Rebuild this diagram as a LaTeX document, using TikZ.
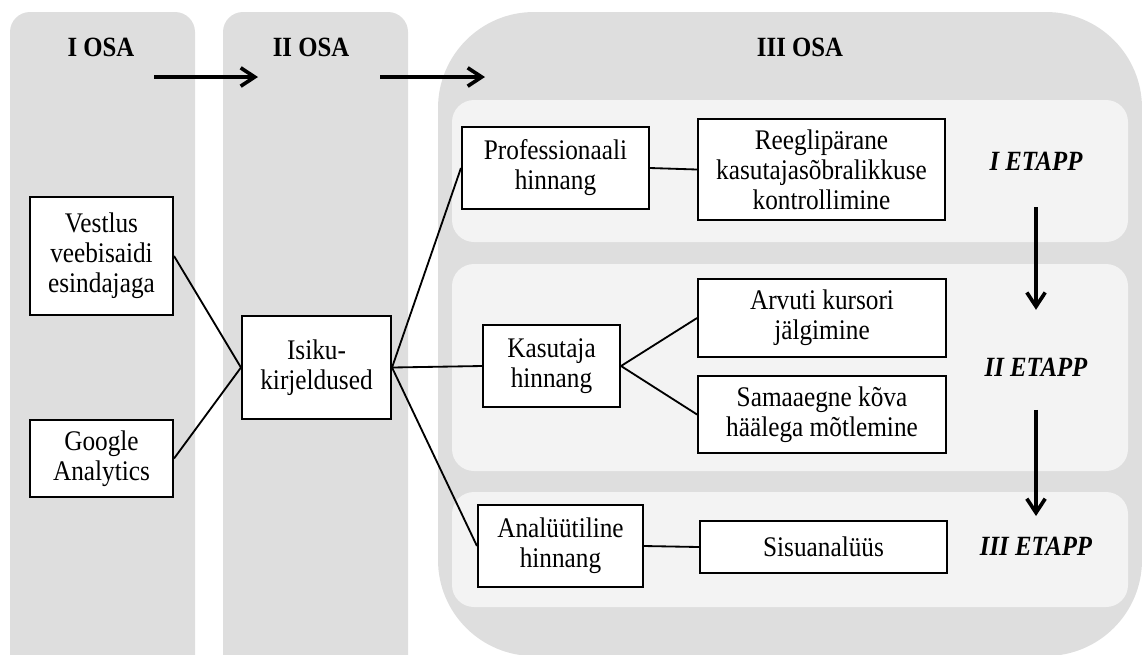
\documentclass[tikz,border=0pt]{standalone}
\usepackage{fontspec}
\setmainfont{Liberation Serif}
\newfontfamily\boxfont[FakeStretch=0.89]{Liberation Serif}
\usepackage{xcolor}
\usetikzlibrary{arrows.meta}
\definecolor{osagray}{HTML}{DEDEDE}
\definecolor{etappgray}{HTML}{F3F3F3}

\begin{document}
\begin{tikzpicture}[x=0.025cm, y=-0.025cm,
  box/.style={draw, line width=1.3pt, fill=white, align=center, inner sep=2pt,
    font=\boxfont\fontsize{20.2}{21.3}\selectfont},
  link/.style={line width=1.3pt},
  flow/.style={line width=2.6pt, -{Straight Barb[length=3.5mm, width=4.6mm]}},
  head/.style={font=\boxfont\fontsize{19.8}{21}\selectfont\bfseries},
  stage/.style={font=\boxfont\fontsize{19.8}{21}\selectfont\bfseries\itshape}]
  \clip (0,0) rectangle (1142,654);

  % ── Background panels ──
  \fill[osagray, rounded corners=0.5cm] (10,12) rectangle (195,720);
  \fill[osagray, rounded corners=0.5cm] (223,12) rectangle (408,720);
  \fill[osagray, rounded corners=2.4cm] (438,12) rectangle (1142,656);
  % Stage bands
  \fill[etappgray, rounded corners=0.55cm] (452,100) rectangle (1128,242);
  \fill[etappgray, rounded corners=0.55cm] (452,264) rectangle (1128,471);
  \fill[etappgray, rounded corners=0.55cm] (452,492) rectangle (1128,607);

  % ── Headers ──
  \node[head] (osa1) at (101,47) {I OSA};
  \node[head] (osa2) at (311,47) {II OSA};
  \node[head] (osa3) at (800,47) {III OSA};
  \coordinate (go1) at (154,77);
  \coordinate (to1) at (258,77);
  \coordinate (go2) at (380,77);
  \coordinate (to2) at (485,77);
  \draw[flow] (go1) -- (to1);
  \draw[flow] (go2) -- (to2);

  % ── Stages ──
  \node[stage] (etapp1) at (1036,161) {I ETAPP};
  \node[stage] (etapp2) at (1036,367) {II ETAPP};
  \node[stage] (etapp3) at (1036,546) {III ETAPP};
  \draw[flow, shorten <=1.15cm, shorten >=1.43cm] (etapp1.center) -- (etapp2.center);
  \draw[flow, shorten <=1.07cm, shorten >=0.75cm] (etapp2.center) -- (etapp3.center);

  % I OSA
  \node[box, minimum width=3.58cm, minimum height=2.95cm] (vestlus) at (101.5,256)
    {Vestlus\\veebisaidi\\esindajaga};
  \node[box, minimum width=3.58cm, minimum height=1.93cm] (google) at (101.5,458.5)
    {Google\\Analytics};
  % II OSA
  \node[box, minimum width=3.73cm, minimum height=2.58cm] (isiku) at (316.5,367.5)
    {Isiku-\\kirjeldused};
  % III OSA
  \node[box, minimum width=4.68cm, minimum height=2.05cm] (prof) at (555.5,168)
    {Professionaali\\hinnang};
  \node[box, minimum width=6.18cm, minimum height=2.53cm] (reegli) at (821.5,169.5)
    {Reeglipärane\\kasutajasõbralikkuse\\kontrollimine};
  \node[box, minimum width=3.43cm, minimum height=2.05cm] (kasutaja) at (551.5,366)
    {Kasutaja\\hinnang};
  \node[box, minimum width=6.2cm, minimum height=1.95cm] (arvuti) at (822,318)
    {Arvuti kursori\\jälgimine};
  \node[box, minimum width=6.2cm, minimum height=1.93cm] (samaaegne) at (822,414.5)
    {Samaaegne kõva\\häälega mõtlemine};
  \node[box, minimum width=4.13cm, minimum height=2.05cm] (analyyt) at (560.5,546)
    {Analüütiline\\hinnang};
  \node[box, minimum width=6.18cm, minimum height=1.3cm] (sisu) at (823.5,547)
    {Sisuanalüüs};

  % ── Links ──
  \draw[link] (vestlus.east) -- (isiku.west);
  \draw[link] (google.east) -- (isiku.west);
  \draw[link] (isiku.east) -- (prof.west);
  \draw[link] (isiku.east) -- (kasutaja.west);
  \draw[link] (isiku.east) -- (analyyt.west);
  \draw[link] (prof.east) -- (reegli.west);
  \draw[link] (kasutaja.east) -- (arvuti.west);
  \draw[link] (kasutaja.east) -- (samaaegne.west);
  \draw[link] (analyyt.east) -- (sisu.west);
\end{tikzpicture}
\end{document}
